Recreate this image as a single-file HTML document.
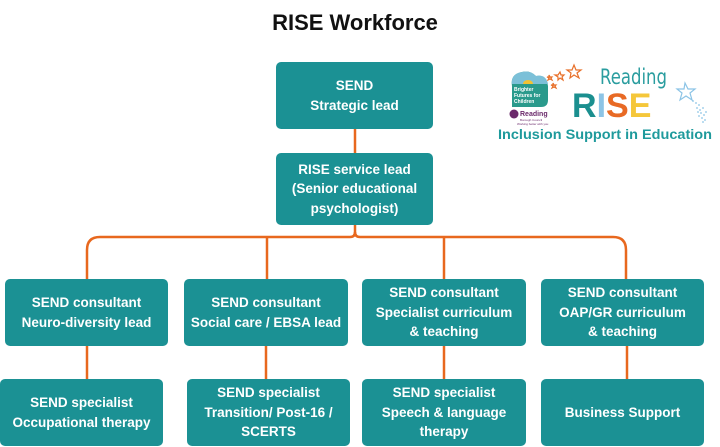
<!DOCTYPE html>
<html><head><meta charset="utf-8"><style>
html,body{margin:0;padding:0;background:#fff;}
body{width:720px;height:447px;position:relative;overflow:hidden;font-family:"Liberation Sans",Arial,sans-serif;}
.title{position:absolute;left:0;width:710px;top:10px;text-align:center;font-weight:bold;font-size:22px;color:#111;}
.b{position:absolute;background:#1b9194;border-radius:5px;color:#fff;font-weight:bold;font-size:13.5px;line-height:19.5px;display:flex;align-items:center;justify-content:center;text-align:center;}
svg{position:absolute;left:0;top:0;}
</style></head><body>
<svg width="720" height="447" viewBox="0 0 720 447">
<g fill="none" stroke="#e8681e" stroke-width="2.5">
<path d="M355 129 V153"/>
<path d="M355 225 V232 Q355 237 350 237 H100 Q87 237 87 250 V279"/>
<path d="M355 232 Q355 237 360 237 H613 Q626 237 626 250 V279"/>
<path d="M267 237 V279"/>
<path d="M444 237 V279"/>
<path d="M87 346 V379"/>
<path d="M266 346 V379"/>
<path d="M444 346 V379"/>
<path d="M627 346 V379"/>
</g>
<!-- logo -->
<g>
<path d="M512 86 Q510 74 522 72 Q530 70 536 76 Q546 74 548 86 L548 100 Q548 107 541 107 L512 107 Z" fill="#2a9a8c"/>
<path d="M512 86 Q510 74 522 72 Q530 70 536 76 Q546 74 548 84 L512 84 Z" fill="#7cc0d8"/>
<path d="M523 84 A5 4 0 0 1 533 84 Z" fill="#f2c233"/>
<text x="514" y="91" font-size="5" font-weight="bold" fill="#fff" font-family="Liberation Sans, sans-serif">Brighter</text>
<text x="514" y="97" font-size="5" font-weight="bold" fill="#fff" font-family="Liberation Sans, sans-serif">Futures for</text>
<text x="514" y="103" font-size="5" font-weight="bold" fill="#fff" font-family="Liberation Sans, sans-serif">Children</text>
<circle cx="514" cy="114" r="4.5" fill="#6b2a6b"/>
<text x="520" y="116" font-size="7" font-weight="bold" fill="#6b2a6b" font-family="Liberation Sans, sans-serif">Reading</text>
<text x="520" y="121" font-size="3" fill="#6b2a6b" font-family="Liberation Sans, sans-serif">Borough Council</text>
<text x="517" y="125" font-size="3" fill="#6b2a6b" font-family="Liberation Sans, sans-serif">Working better with you</text>
<g fill="none" stroke="#e8702a" stroke-width="1.2">
<path d="M574 65 l2 5 5 0 -4 3 2 5 -5 -3 -4 3 1 -5 -4 -3 5 0z"/>
<path d="M560 72 l1 3 3 0 -2 2 1 3 -3 -2 -2 2 0 -3 -3 -2 3 0z"/>
<path d="M549 75 l1 2 2 0 -1 1 1 2 -2 -1 -2 1 1 -2 -2 -1 2 0z"/>
<path d="M553 83 l1 2 2 0 -1 1 1 2 -2 -1 -2 1 1 -2 -2 -1 2 0z"/>
</g>
<text x="600" y="84" font-size="21" fill="#2a9d9f" font-family="DejaVu Sans, sans-serif" textLength="67" lengthAdjust="spacingAndGlyphs">Reading</text>
<text x="572" y="117" font-size="34" font-weight="bold" font-family="Liberation Sans, sans-serif"><tspan fill="#1b8f8f">R</tspan><tspan fill="#8cc4e6">I</tspan><tspan fill="#e86a25">S</tspan><tspan fill="#f5c73a">E</tspan></text>
<path d="M685 83 l3 6 7 0 -5 4 2 7 -6 -4 -6 4 2 -7 -5 -4 7 0z" fill="none" stroke="#8cc4e6" stroke-width="1.2"/>
<g fill="#8cc4e6">
<circle cx="693" cy="101" r="0.9"/><circle cx="696" cy="103" r="0.9"/><circle cx="699" cy="105" r="0.9"/>
<circle cx="697" cy="108" r="0.9"/><circle cx="700" cy="110" r="0.9"/><circle cx="703" cy="108" r="0.9"/>
<circle cx="701" cy="113" r="0.9"/><circle cx="704" cy="115" r="0.9"/><circle cx="702" cy="118" r="0.9"/>
<circle cx="705" cy="120" r="0.9"/><circle cx="699" cy="116" r="0.9"/><circle cx="706" cy="112" r="0.9"/>
<circle cx="703" cy="122" r="0.9"/><circle cx="698" cy="112" r="0.9"/>
</g>
<text x="498" y="139" font-size="14" font-weight="bold" fill="#1e9a9c" font-family="Liberation Sans, sans-serif" textLength="214" lengthAdjust="spacingAndGlyphs">Inclusion Support in Education</text>
</g>
</svg>
<div class="title">RISE Workforce</div>
<div class="b" style="left:276px;top:62px;width:157px;height:67px;">SEND<br>Strategic lead</div>
<div class="b" style="left:276px;top:153px;width:157px;height:72px;">RISE service lead<br>(Senior educational<br>psychologist)</div>
<div class="b" style="left:5px;top:279px;width:163px;height:67px;">SEND consultant<br>Neuro-diversity lead</div>
<div class="b" style="left:184px;top:279px;width:164px;height:67px;">SEND consultant<br>Social care / EBSA lead</div>
<div class="b" style="left:362px;top:279px;width:164px;height:67px;">SEND consultant<br>Specialist curriculum<br>&amp; teaching</div>
<div class="b" style="left:541px;top:279px;width:163px;height:67px;">SEND consultant<br>OAP/GR curriculum<br>&amp; teaching</div>
<div class="b" style="left:0px;top:379px;width:163px;height:67px;">SEND specialist<br>Occupational therapy</div>
<div class="b" style="left:187px;top:379px;width:163px;height:67px;">SEND specialist<br>Transition/ Post-16 /<br>SCERTS</div>
<div class="b" style="left:362px;top:379px;width:164px;height:67px;">SEND specialist<br>Speech &amp; language<br>therapy</div>
<div class="b" style="left:541px;top:379px;width:163px;height:67px;">Business Support</div>
</body></html>
